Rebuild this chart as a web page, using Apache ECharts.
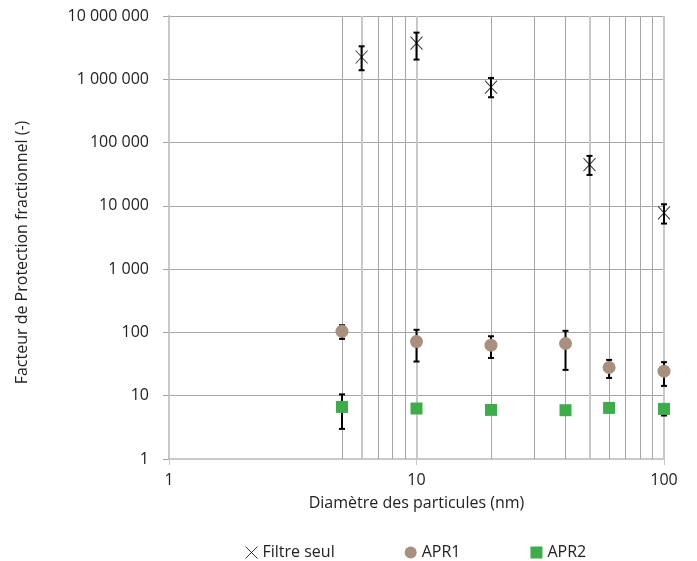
<!DOCTYPE html>
<html>
<head>
<meta charset="utf-8">
<script src="https://cdn.jsdelivr.net/npm/echarts@6/dist/echarts.min.js"></script>
<style>
  html, body { margin: 0; padding: 0; background: #fff; }
  #main { width: 697px; height: 561px; }
</style>
</head>
<body>
<div id="main"></div>
<script>
// diametres (nm) et facteurs de protection
var filtreX = [6, 10, 20, 50, 100];
var filtreY = [2250000, 3740000, 755000, 44900, 7730];
var filtreLow = [1390000, 2050000, 520000, 30800, 5250];
var filtreHigh = [3320000, 5460000, 1050000, 61600, 10600];

var apr1X = [5, 10, 20, 40, 60, 100];
var apr1Y = [104, 71.8, 62.8, 66.8, 27.9, 24.4];
var apr1Low = [79, 34.7, 39.5, 25.6, 19.1, 14.3];
var apr1High = [130, 110, 87, 106, 36.8, 33.9];

var apr2X = [5, 10, 20, 40, 60, 100];
var apr2Y = [6.65, 6.28, 5.97, 5.9, 6.41, 6.19];
var apr2Low = [2.99, 6.28, 5.97, 5.9, 6.41, 4.87];
var apr2High = [10.5, 6.28, 5.97, 5.9, 6.41, 7.3];

// lignes verticales secondaires
var thinGridX = [5, 7, 8, 9, 20, 30, 40, 60, 70, 80, 90];
var lightGridX = [6, 50];

var crossPath = 'path://M0,0L10,10M10,0L0,10';
var FONT = 'Open Sans';
var FS = 16;
var TXT = '#222';

function zip(xs, ys) {
    var out = [];
    for (var i = 0; i < xs.length; i++) out.push([xs[i], ys[i]]);
    return out;
}
function zip3(xs, lo, hi) {
    var out = [];
    for (var i = 0; i < xs.length; i++) out.push([xs[i], lo[i], hi[i]]);
    return out;
}
function fmtNum(v) {
    var s = String(Math.round(v));
    return s.replace(/\B(?=(\d{3})+(?!\d))/g, ' ');
}

function renderErr(params, api) {
    var x = api.value(0);
    var lo = api.value(1);
    var hi = api.value(2);
    if (lo == hi) return null;
    var top = api.coord([x, hi]);
    var bot = api.coord([x, lo]);
    var w = 3;
    var st = { stroke: '#000', lineWidth: 2 };
    return {
        type: 'group',
        children: [
            { type: 'line', shape: { x1: top[0], y1: top[1], x2: bot[0], y2: bot[1] }, style: st },
            { type: 'line', shape: { x1: top[0] - w, y1: top[1], x2: top[0] + w, y2: top[1] }, style: st },
            { type: 'line', shape: { x1: bot[0] - w, y1: bot[1], x2: bot[0] + w, y2: bot[1] }, style: st }
        ]
    };
}

var gridLines = [];
for (var i = 0; i < thinGridX.length; i++) {
    gridLines.push({ xAxis: thinGridX[i], lineStyle: { color: '#a6a6a6', width: 1, type: 'solid' } });
}
for (var j = 0; j < lightGridX.length; j++) {
    gridLines.push({ xAxis: lightGridX[j], lineStyle: { color: '#c8c8c8', width: 2, type: 'solid' } });
}

var chart = echarts.init(document.getElementById('main'));
var option = {
    animation: false,
    textStyle: { fontFamily: FONT },
    grid: { left: 169, right: 33, top: 16, bottom: 102 },
    legend: {
        left: 238,
        top: 539,
        itemGap: 70,
        itemWidth: 12,
        itemHeight: 12,
        textStyle: { fontFamily: FONT, fontSize: FS, color: TXT },
        data: [
            { name: 'Filtre seul', icon: crossPath, itemStyle: { color: 'none', borderColor: '#000', borderWidth: 1 } },
            { name: 'APR1', icon: 'circle' },
            { name: 'APR2', icon: 'rect' }
        ]
    },
    xAxis: {
        type: 'log',
        logBase: 10,
        min: 1,
        max: 100,
        name: 'Diamètre des particules (nm)',
        nameLocation: 'middle',
        nameGap: 36,
        nameTextStyle: { fontFamily: FONT, fontSize: FS, color: TXT },
        axisLine: { show: true, lineStyle: { color: '#c8c8c8', width: 2 } },
        axisTick: { show: true, length: 6, lineStyle: { color: '#c8c8c8', width: 1 } },
        axisLabel: { margin: 13, fontFamily: FONT, fontSize: FS, color: TXT },
        splitLine: { show: true, lineStyle: { color: '#c8c8c8', width: 2 } }
    },
    yAxis: {
        type: 'log',
        logBase: 10,
        min: 1,
        max: 10000000,
        name: 'Facteur de Protection fractionnel (-)',
        nameLocation: 'middle',
        nameGap: 139,
        nameTextStyle: { fontFamily: FONT, fontSize: FS, color: TXT, padding: [0, 30, 0, 0] },
        axisLine: { show: true, lineStyle: { color: '#c8c8c8', width: 2 } },
        axisTick: { show: true, length: 6, lineStyle: { color: '#a6a6a6', width: 1 } },
        axisLabel: { margin: 20, fontFamily: FONT, fontSize: FS, color: TXT, formatter: fmtNum },
        splitLine: { show: true, lineStyle: { color: '#a6a6a6', width: 1 } }
    },
    series: [
        {
            name: 'grille',
            type: 'scatter',
            data: [],
            silent: true,
            z: 1,
            markLine: { silent: true, z: 1, symbol: 'none', label: { show: false }, animation: false, data: gridLines }
        },
        {
            name: 'errFiltre',
            type: 'custom',
            renderItem: renderErr,
            encode: { x: 0, y: [1, 2] },
            data: zip3(filtreX, filtreLow, filtreHigh),
            z: 4,
            silent: true
        },
        {
            name: 'errAPR1',
            type: 'custom',
            renderItem: renderErr,
            encode: { x: 0, y: [1, 2] },
            data: zip3(apr1X, apr1Low, apr1High),
            z: 2,
            silent: true
        },
        {
            name: 'errAPR2',
            type: 'custom',
            renderItem: renderErr,
            encode: { x: 0, y: [1, 2] },
            data: zip3(apr2X, apr2Low, apr2High),
            z: 2,
            silent: true
        },
        {
            name: 'Filtre seul',
            type: 'scatter',
            symbol: crossPath,
            symbolSize: [12, 13],
            itemStyle: { color: 'none', borderColor: '#000', borderWidth: 1 },
            data: zip(filtreX, filtreY),
            z: 3
        },
        {
            name: 'APR1',
            type: 'scatter',
            symbol: 'circle',
            symbolSize: 13,
            itemStyle: { color: '#a88f7e', opacity: 1 },
            data: zip(apr1X, apr1Y),
            z: 3
        },
        {
            name: 'APR2',
            type: 'scatter',
            symbol: 'rect',
            symbolSize: 12,
            itemStyle: { color: '#3cad4a', opacity: 1 },
            data: zip(apr2X, apr2Y),
            z: 3
        }
    ]
};
chart.setOption(option);
</script>
</body>
</html>
